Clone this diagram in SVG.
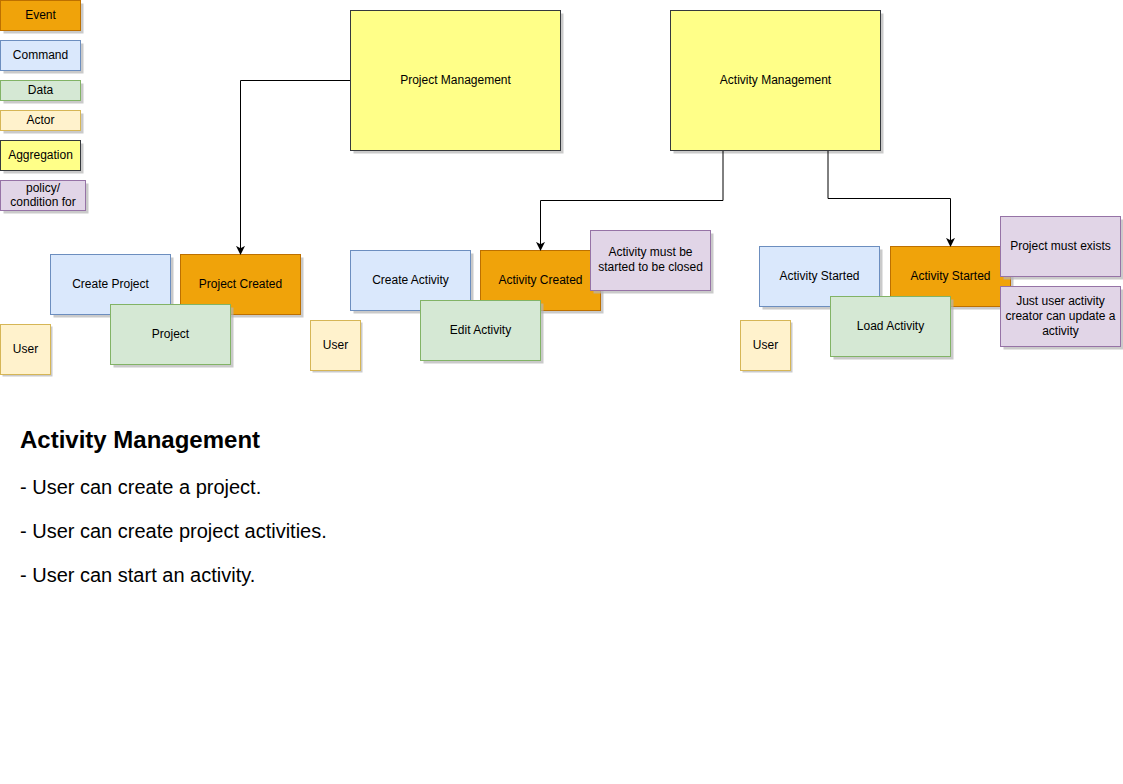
<svg xmlns="http://www.w3.org/2000/svg" width="1123" height="784" viewBox="0 0 1123 784">
<style>
  text { font-family: "Liberation Sans", Arial, sans-serif; font-size: 12px; fill: #000; text-anchor: middle; dominant-baseline: central; }
  .sh { fill: #b3b3b3; opacity: 0.7; }
  .event { fill: #f0a30a; stroke: #bd7000; }
  .cmd { fill: #dae8fc; stroke: #6c8ebf; }
  .data { fill: #d5e8d4; stroke: #82b366; }
  .actor { fill: #fff2cc; stroke: #d6b656; }
  .agg { fill: #ffff88; stroke: #36393d; }
  .policy { fill: #e1d5e7; stroke: #9673a6; }
  .edge { fill: none; stroke: #000; stroke-width: 1; }
  .note { text-anchor: start; dominant-baseline: auto; font-size: 20px; }
</style>
<defs>
  <marker id="arrow" viewBox="0 0 10 10" refX="9" refY="5" markerWidth="9" markerHeight="9" markerUnits="userSpaceOnUse" orient="auto">
    <path d="M0,0 L10,5 L0,10 L2.5,5 z" fill="#000"/>
  </marker>
</defs>
<rect width="1123" height="784" fill="#fff"/>

<!-- legend -->
<g id="legend-event"><rect class="sh" x="3.5" y="3.5" width="80" height="30"/><rect class="event" x="0.5" y="0.5" width="80" height="30"/><text x="40.5" y="14.5">Event</text></g>
<g id="legend-command"><rect class="sh" x="3.5" y="43.5" width="80" height="30"/><rect class="cmd" x="0.5" y="40.5" width="80" height="30"/><text x="40.5" y="54.5">Command</text></g>
<g id="legend-data"><rect class="sh" x="3.5" y="83.5" width="80" height="20"/><rect class="data" x="0.5" y="80.5" width="80" height="20"/><text x="40.5" y="89.5">Data</text></g>
<g id="legend-actor"><rect class="sh" x="3.5" y="113.5" width="80" height="20"/><rect class="actor" x="0.5" y="110.5" width="80" height="20"/><text x="40.5" y="119.5">Actor</text></g>
<g id="legend-aggregation"><rect class="sh" x="3.5" y="143.5" width="80" height="30"/><rect class="agg" x="0.5" y="140.5" width="80" height="30"/><text x="40.5" y="154.5">Aggregation</text></g>
<g id="legend-policy"><rect class="sh" x="3.5" y="183.5" width="85" height="30"/><rect class="policy" x="0.5" y="180.5" width="85" height="30"/><text x="43" y="187.5">policy/</text><text x="43" y="202">condition for</text></g>

<!-- aggregations -->
<g id="project-management"><rect class="sh" x="353.5" y="13.5" width="210" height="140"/><rect class="agg" x="350.5" y="10.5" width="210" height="140"/><text x="455.5" y="79.5">Project Management</text></g>
<g id="activity-management"><rect class="sh" x="673.5" y="13.5" width="210" height="140"/><rect class="agg" x="670.5" y="10.5" width="210" height="140"/><text x="775.5" y="79.5">Activity Management</text></g>

<!-- project flow -->
<g id="create-project"><rect class="sh" x="53.5" y="257.5" width="120" height="60"/><rect class="cmd" x="50.5" y="254.5" width="120" height="60"/><text x="110.5" y="283.5">Create Project</text></g>
<g id="project-created"><rect class="sh" x="183.5" y="257.5" width="120" height="60"/><rect class="event" x="180.5" y="254.5" width="120" height="60"/><text x="240.5" y="283.5">Project Created</text></g>
<g id="project"><rect class="sh" x="113.5" y="307.5" width="120" height="60"/><rect class="data" x="110.5" y="304.5" width="120" height="60"/><text x="170.5" y="333.5">Project</text></g>
<g id="user-1"><rect class="sh" x="2.5" y="326.5" width="50" height="50"/><rect class="actor" x="0.5" y="324.5" width="50" height="50"/><text x="25.5" y="348.5">User</text></g>

<!-- activity creation -->
<g id="create-activity"><rect class="sh" x="353.5" y="253.5" width="120" height="60"/><rect class="cmd" x="350.5" y="250.5" width="120" height="60"/><text x="410.5" y="279.5">Create Activity</text></g>
<g id="activity-created"><rect class="sh" x="483.5" y="253.5" width="120" height="60"/><rect class="event" x="480.5" y="250.5" width="120" height="60"/><text x="540.5" y="279.5">Activity Created</text></g>
<g id="edit-activity"><rect class="sh" x="423.5" y="303.5" width="120" height="60"/><rect class="data" x="420.5" y="300.5" width="120" height="60"/><text x="480.5" y="329.5">Edit Activity</text></g>
<g id="user-2"><rect class="sh" x="312.5" y="322.5" width="50" height="50"/><rect class="actor" x="310.5" y="320.5" width="50" height="50"/><text x="335.5" y="344.5">User</text></g>
<g id="policy-closed"><rect class="sh" x="593.5" y="233.5" width="120" height="60"/><rect class="policy" x="590.5" y="230.5" width="120" height="60"/><text x="650.5" y="252">Activity must be</text><text x="650.5" y="267">started to be closed</text></g>

<!-- activity start -->
<g id="start-activity"><rect class="sh" x="762.5" y="249.5" width="120" height="60"/><rect class="cmd" x="759.5" y="246.5" width="120" height="60"/><text x="819.5" y="275.5">Activity Started</text></g>
<g id="activity-started"><rect class="sh" x="893.5" y="249.5" width="120" height="60"/><rect class="event" x="890.5" y="246.5" width="120" height="60"/><text x="950.5" y="275.5">Activity Started</text></g>
<g id="load-activity"><rect class="sh" x="833.5" y="299.5" width="120" height="60"/><rect class="data" x="830.5" y="296.5" width="120" height="60"/><text x="890.5" y="325.5">Load Activity</text></g>
<g id="user-3"><rect class="sh" x="742.5" y="322.5" width="50" height="50"/><rect class="actor" x="740.5" y="320.5" width="50" height="50"/><text x="765.5" y="344.5">User</text></g>
<g id="policy-project-exists"><rect class="sh" x="1003.5" y="219.5" width="120" height="60"/><rect class="policy" x="1000.5" y="216.5" width="120" height="60"/><text x="1060.5" y="245.5">Project must exists</text></g>
<g id="policy-creator"><rect class="sh" x="1003.5" y="289.5" width="120" height="60"/><rect class="policy" x="1000.5" y="286.5" width="120" height="60"/><text x="1060.5" y="300.5">Just user activity</text><text x="1060.5" y="315.5">creator can update a</text><text x="1060.5" y="330.5">activity</text></g>

<!-- connectors -->
<g id="connectors">
  <path class="edge" d="M350,80.5 H240.5 V254" marker-end="url(#arrow)"/>
  <path class="edge" d="M723,151 V200.5 H540.5 V250" marker-end="url(#arrow)"/>
  <path class="edge" d="M828,151 V198.5 H950.5 V246" marker-end="url(#arrow)"/>
</g>

<!-- notes -->
<g id="notes">
  <text class="note" x="20" y="448" font-weight="bold" style="font-size:24px">Activity Management</text>
  <text class="note" x="20" y="494">- User can create a project.</text>
  <text class="note" x="20" y="538">- User can create project activities.</text>
  <text class="note" x="20" y="582">- User can start an activity.</text>
</g>
</svg>
